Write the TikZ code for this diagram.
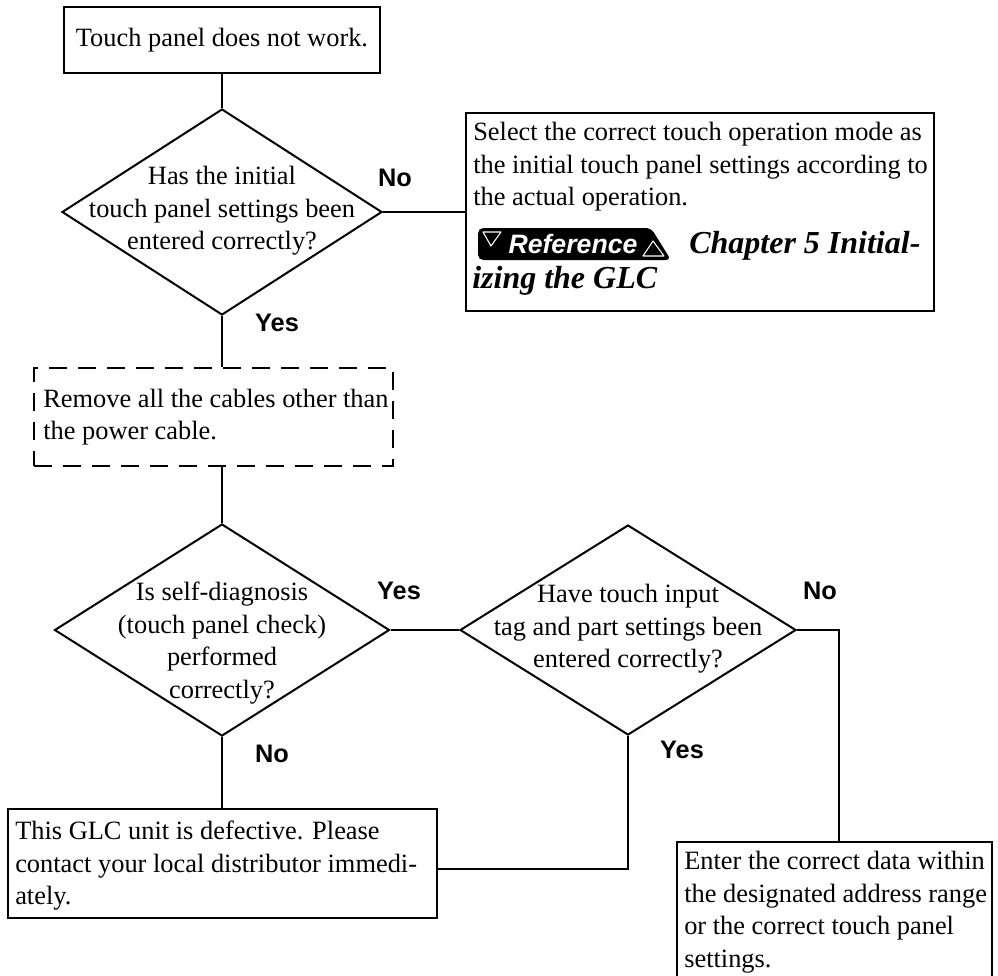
\documentclass[tikz,border=0pt]{standalone}
\usepackage{fontspec}
\setmainfont{Liberation Serif}
\newfontfamily\lsans{Liberation Sans}
\usetikzlibrary{shapes.geometric,calc}
\tikzset{
  box/.style={draw, rectangle, line width=1.5pt, inner sep=0},
  dbox/.style={box, dash pattern=on 13.5pt off 8.25pt},
  dec/.style={draw, diamond, line width=1.5pt, inner sep=0},
  txt/.style={inner sep=0, font=\fontsize{19.8}{24.4}\selectfont},
  reftxt/.style={inner sep=0, font=\bfseries\itshape\fontsize{24}{27}\selectfont},
  lbl/.style={inner sep=0, font=\lsans\bfseries\fontsize{19}{22}\selectfont},
  conn/.style={line width=1.5pt},
}
\begin{document}
\begin{tikzpicture}[x=0.75pt,y=-0.75pt]
\useasboundingbox (0,0) rectangle (998,975);

% boxes
\node[box, txt, minimum width=316*0.75pt, minimum height=66*0.75pt] (b1) at (222,40) {Touch panel does not work.};
\node[box, minimum width=468*0.75pt, minimum height=198*0.75pt] (b2) at (700,212) {};
\node[dbox, minimum width=359*0.75pt, minimum height=98*0.75pt] (b3) at (213.5,417) {};
\node[box, minimum width=429*0.75pt, minimum height=109*0.75pt] (b4) at (222.5,863.5) {};
\node[box, minimum width=315*0.75pt, minimum height=148*0.75pt] (b5) at (834.5,916) {};

% diamonds
\node[dec, minimum width=320*0.75pt, minimum height=206*0.75pt] (d1) at (222,212) {};
\node[dec, minimum width=335*0.75pt, minimum height=212*0.75pt] (d2) at (222,630) {};
\node[dec, minimum width=336*0.75pt, minimum height=210*0.75pt] (d3) at (628,630) {};

% texts
\node[txt, align=center] (t1) at (222,211) {Has the initial\\touch panel settings been\\entered correctly?};
\node[txt, align=center] (t2) at (222,643) {Is self-diagnosis\\(touch panel check)\\performed\\correctly?};
\node[txt, align=center] (t3) at (628,629) {Have touch input\\tag and part settings been\\entered correctly?};
\node[txt, align=left, anchor=west] (tb2) at (473,167) {Select the correct touch operation mode as\\the initial touch panel settings according to\\the actual operation.};
\node[txt, align=left, anchor=west] (tb3) at (43,417) {Remove all the cables other than\\the power cable.};
\node[txt, align=left, anchor=west] (tb4) at (15,866) {This GLC unit is defective. Please\\contact your local distributor immedi-\\ately.};
\node[txt, align=left, anchor=west] (tb5) at (684,912) {Enter the correct data within\\the designated address range\\or the correct touch panel\\settings.};

% reference icon
\fill[black, rounded corners=4pt] (478,228) -- (651,228) -- (671,260) -- (478,260) -- cycle;
\draw[white, line width=0.8pt, line join=round] (483,232) -- (501,232) -- (491,246) -- cycle;
\draw[white, line width=0.8pt, line join=round] (643,256) -- (653,241) -- (664,256) -- cycle;
\node[inner sep=0, text=white, font=\lsans\bfseries\itshape\fontsize{20}{22}\selectfont] (ref) at (573,244) {Reference};
\node[reftxt, anchor=west] (ch) at (689,246) {Chapter 5 Initial-};
\node[reftxt, anchor=west] (iz) at (472,281) {izing the GLC};

% labels
\node[lbl] (l1) at (395,178) {No};
\node[lbl] (l2) at (277,323) {Yes};
\node[lbl] (l3) at (399,591) {Yes};
\node[lbl] (l4) at (272,754) {No};
\node[lbl] (l5) at (820,591) {No};
\node[lbl] (l6) at (682,750) {Yes};

% connectors
\draw[conn] (b1.south) -- (d1.north);
\draw[conn] (d1.east) -- (b2.west);
\draw[conn] (d1.south) -- (d1.south |- b3.north);
\draw[conn] (d2.north |- b3.south) -- (d2.north);
\draw[conn] (d2.east) -- (d3.west);
\draw[conn] (d2.south) -- (d2.south |- b4.north);
\coordinate (k4) at ($(b4.east)+(0,5)$);
\draw[conn] (d3.south) |- (k4);
\coordinate (k5) at ($(b5.north)+(4.5,0)$);
\draw[conn] (d3.east) -| (k5);
\end{tikzpicture}
\end{document}
